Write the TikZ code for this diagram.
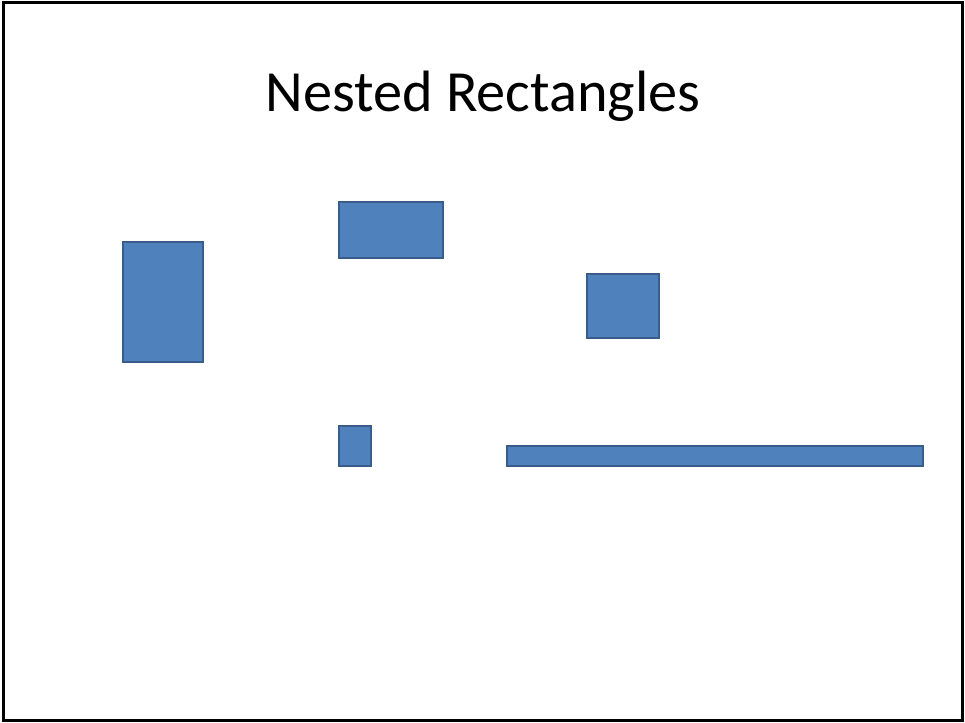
\documentclass[tikz,border=0pt]{standalone}
\usepackage{fontspec}
\setmainfont{Carlito}
\definecolor{boxfill}{HTML}{4F81BD}
\definecolor{boxline}{HTML}{385D8A}
\begin{document}
\begin{tikzpicture}[
        x=1bp, y=-1bp,
        % 矩形樣式:藍色填充、深藍邊框
        box/.style={
            rectangle,
            draw=boxline,
            fill=boxfill,
            line width=1.5bp,
            inner sep=0pt
        },
        % 標題文字樣式
        title_text/.style={
            font=\fontsize{58.3bp}{70bp}\selectfont,
            anchor=base
        }
    ]
    \useasboundingbox (0,0) rectangle (965,723);
    % 外框
    \draw[line width=3bp] (3,3) rectangle (962,720);

    % 標題
    \node[title_text] (title) at (483,112) {Nested Rectangles};

    % --- 各個矩形 ---
    \node[box, minimum width=80bp,  minimum height=120bp] (tall)   at (163,302) {};
    \node[box, minimum width=104bp, minimum height=56bp]  (wide)   at (391,230) {};
    \node[box, minimum width=72bp,  minimum height=64bp]  (square) at (623,306) {};
    \node[box, minimum width=32bp,  minimum height=40bp]  (small)  at (355,446) {};
    \node[box, minimum width=416bp, minimum height=20bp]  (bar)    at (715,456) {};
\end{tikzpicture}
\end{document}
